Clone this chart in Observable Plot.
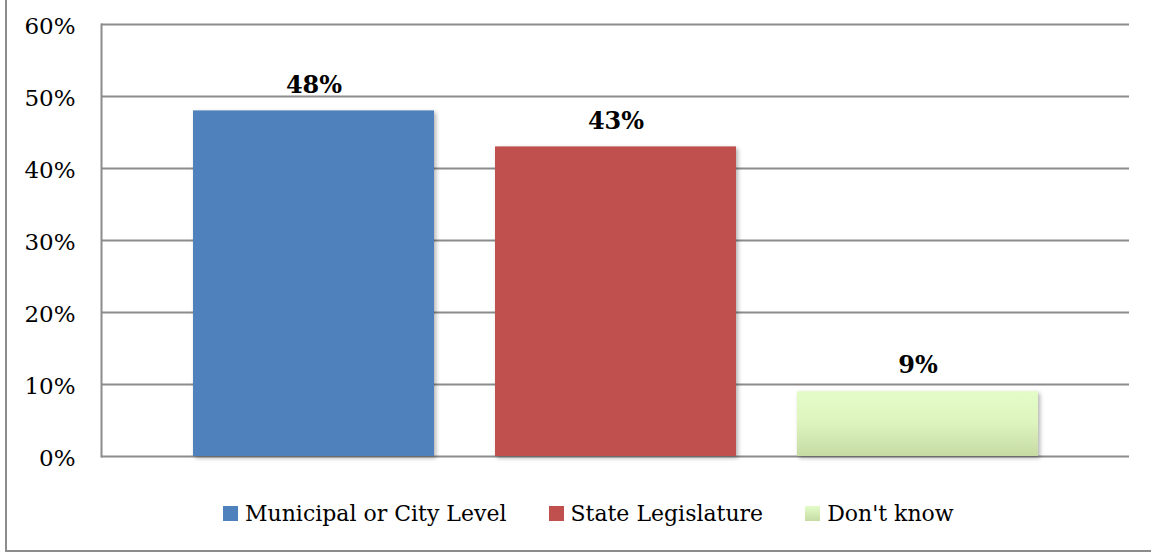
<!DOCTYPE html>
<html>
<head>
<meta charset="utf-8">
<script src="https://cdn.jsdelivr.net/npm/d3@7"></script>
<script src="https://cdn.jsdelivr.net/npm/@observablehq/plot@0.6"></script>
<style>
  html, body { margin: 0; padding: 0; background: #fff; overflow: hidden; }
  #wrap { position: relative; width: 1151px; height: 553px; font-family: "DejaVu Serif", serif; }
  #border { position: absolute; left: 5px; top: -5px; width: 1160px; height: 555px;
            border-left: 2px solid #8c8c8c; border-bottom: 2px solid #8c8c8c; box-sizing: content-box; }
  #chart { position: absolute; left: 0; top: 0; }
  #chart g[aria-label="bar"] rect { filter: drop-shadow(2px 2px 2px rgba(0,0,0,0.3)); }
  #legend { position: absolute; left: 223px; top: 503px; display: flex; gap: 42px;
            font-size: 22px; line-height: 22px; color: #000; white-space: nowrap; }
  #legend .sw { display: inline-block; width: 15px; height: 15px; margin-right: 7px; vertical-align: baseline; }
</style>
</head>
<body>
<div id="wrap">
  <div id="border"></div>
  <div id="chart"></div>
  <div id="legend"></div>
</div>
<script>
const categories = ["Municipal or City Level", "State Legislature", "Don't know"];
const values = [48, 43, 9];
const barColors = ["#4f81bd", "#c0504d", "url(#gradGreen)"];
const legendColors = ["#4f81bd", "#c0504d", "linear-gradient(#e3fcc7, #c6dba4)"];
const yTicks = [0, 10, 20, 30, 40, 50, 60];

const data = categories.map((c, i) => ({category: c, value: values[i], color: barColors[i]}));

const plot = Plot.plot({
  width: 1151,
  height: 553,
  marginTop: 24,
  marginBottom: 97,
  marginLeft: 101,
  marginRight: 22,
  style: {fontFamily: "DejaVu Serif", fontSize: "23px", background: "transparent", color: "#000"},
  x: {domain: categories, axis: null, paddingInner: 0.2033, paddingOuter: 0.3008},
  y: {domain: [0, 60], ticks: yTicks, tickFormat: d => d + "%", label: null},
  color: {type: "identity"},
  marks: [
    Plot.gridY(yTicks, {stroke: "#8c8c8c", strokeOpacity: 1, strokeWidth: 2}),
    Plot.frame({anchor: "left", stroke: "#8c8c8c", strokeWidth: 2}),
    Plot.axisY(yTicks, {tickSize: 0, tickPadding: 26, tickFormat: d => d + "%", dy: 2, fill: "#000", fontSize: 23, label: null}),
    Plot.barY(data, {x: "category", y: "value", fill: "color"}),
    Plot.text(data, {x: "category", y: "value", text: d => d.value + "%", dy: -26,
                     fontWeight: "bold", fontSize: 24, fill: "#000"})
  ]
});

// gradient definition for the "Don't know" bar
const svg = d3.select(plot);
const defs = svg.insert("defs", ":first-child");
const grad = defs.append("linearGradient").attr("id", "gradGreen")
  .attr("x1", 0).attr("y1", 0).attr("x2", 0).attr("y2", 1);
grad.append("stop").attr("offset", "0%").attr("stop-color", "#e3fcc7");
grad.append("stop").attr("offset", "45%").attr("stop-color", "#dff5c0");
grad.append("stop").attr("offset", "100%").attr("stop-color", "#c6dba4");

document.getElementById("chart").appendChild(plot);

// legend
const legend = d3.select("#legend");
categories.forEach((c, i) => {
  const item = legend.append("span");
  item.append("span").attr("class", "sw").style("background", legendColors[i]);
  item.append("span").text(c);
});
</script>
</body>
</html>
